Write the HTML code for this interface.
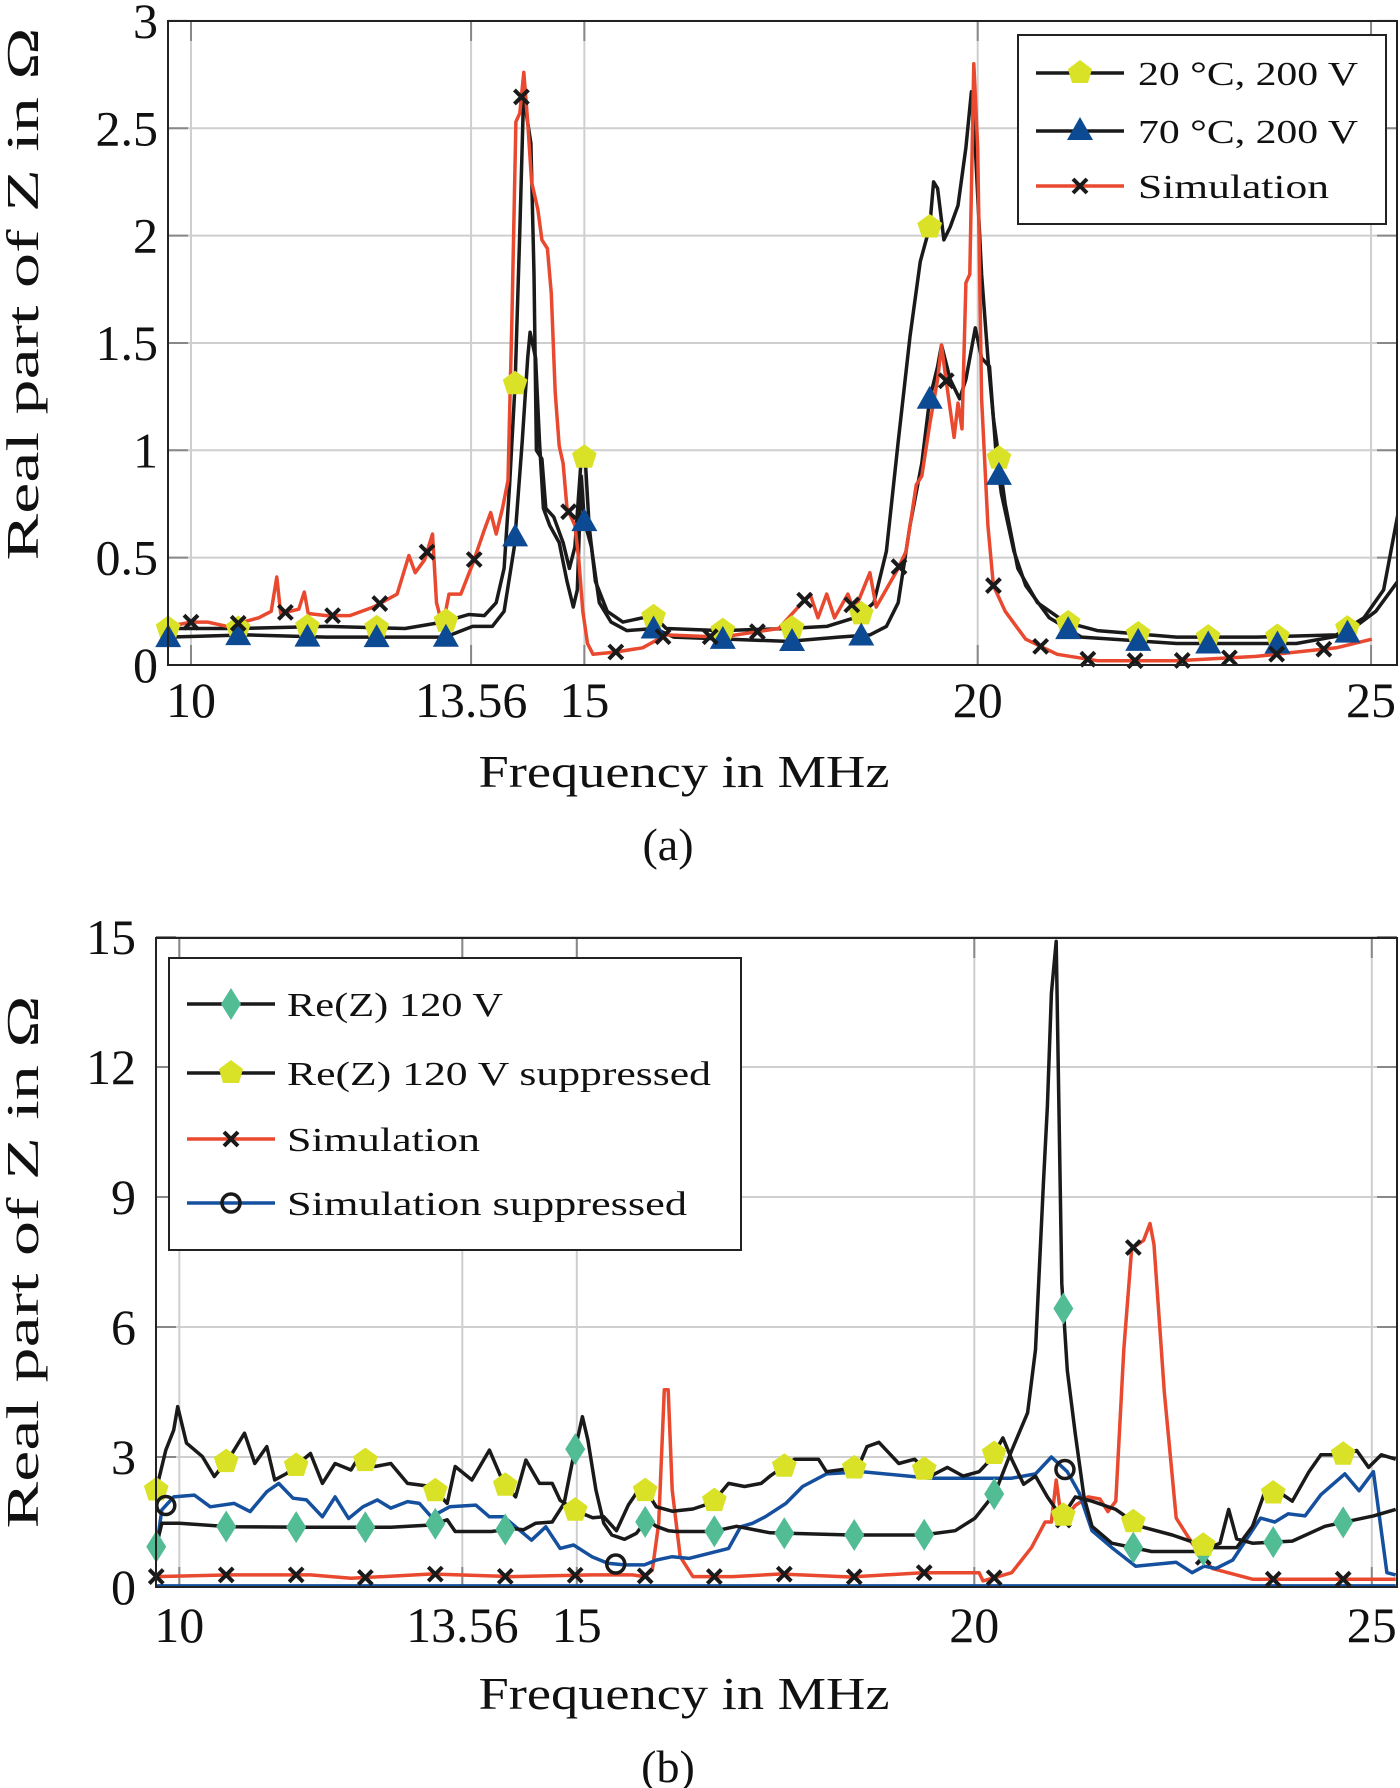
<!DOCTYPE html>
<html><head><meta charset="utf-8"><style>
html,body{margin:0;padding:0;background:#fff;}
svg{display:block;}
text{font-family:"Liberation Serif",serif;fill:#111;}
</style></head>
<body>
<svg id="fig" width="1400" height="1788" viewBox="0 0 1400 1788" xmlns="http://www.w3.org/2000/svg">
<defs>
<clipPath id="clipA"><rect x="168" y="21" width="1229" height="644"/></clipPath>
<clipPath id="clipB"><rect x="156" y="938" width="1241" height="649"/></clipPath>
</defs>
<g id="gridA"></g>
<g id="gridB"></g>
<g id="seriesA" clip-path="url(#clipA)"></g>
<g id="seriesB" clip-path="url(#clipB)"></g>
<g id="markersA"></g>
<g id="markersB"></g>
<rect x="168" y="21" width="1229" height="644" fill="none" stroke="#222" stroke-width="2"/>
<rect x="156" y="938" width="1241" height="649" fill="none" stroke="#222" stroke-width="2"/>
<g id="labels"></g>

<text x="684" y="787" font-size="46" text-anchor="middle" textLength="411" lengthAdjust="spacingAndGlyphs">Frequency in MHz</text>
<text x="668" y="860" font-size="46" text-anchor="middle">(a)</text>
<text transform="translate(38,294) rotate(-90)" font-size="46" text-anchor="middle" textLength="533" lengthAdjust="spacingAndGlyphs">Real part of Z in Ω</text>
<text x="684" y="1709" font-size="46" text-anchor="middle" textLength="411" lengthAdjust="spacingAndGlyphs">Frequency in MHz</text>
<text x="668" y="1782" font-size="46" text-anchor="middle">(b)</text>
<text transform="translate(38,1262) rotate(-90)" font-size="46" text-anchor="middle" textLength="533" lengthAdjust="spacingAndGlyphs">Real part of Z in Ω</text>

<g>
<rect x="1018" y="35" width="368" height="189" fill="#fff" stroke="#222" stroke-width="2"/>
<g>
<line x1="1036" y1="73" x2="1124" y2="73" stroke="#1a1a1a" stroke-width="3.5"/>
<polygon points="1080,60 1092,69 1088,83 1072,83 1068,69" fill="#d9e226"/>
<text x="1138" y="85" font-size="34" textLength="220" lengthAdjust="spacingAndGlyphs">20 °C, 200 V</text></g>
<g>
<line x1="1036" y1="131" x2="1124" y2="131" stroke="#1a1a1a" stroke-width="3.5"/>
<polygon points="1080,117 1093,140 1067,140" fill="#0d4a94"/>
<text x="1138" y="143" font-size="34" textLength="220" lengthAdjust="spacingAndGlyphs">70 °C, 200 V</text></g>
<g>
<line x1="1036" y1="186" x2="1124" y2="186" stroke="#e8492f" stroke-width="3.5"/>
<path d="M1073,179 L1087,193 M1087,179 L1073,193" stroke="#1a1a1a" stroke-width="4"/>
<text x="1138" y="198" font-size="34" textLength="191" lengthAdjust="spacingAndGlyphs">Simulation</text></g>
</g>

<g>
<rect x="169" y="958" width="572" height="292" fill="#fff" stroke="#222" stroke-width="2"/>
<g>
<line x1="187" y1="1004" x2="275" y2="1004" stroke="#1a1a1a" stroke-width="3.5"/>
<polygon points="231,988 241,1004 231,1020 221,1004" fill="#52bc95"/>
<text x="287" y="1016" font-size="34" textLength="216" lengthAdjust="spacingAndGlyphs">Re(Z) 120 V</text></g>
<g>
<line x1="187" y1="1073" x2="275" y2="1073" stroke="#1a1a1a" stroke-width="3.5"/>
<polygon points="231,1060 243,1069 239,1083 223,1083 219,1069" fill="#d9e226"/>
<text x="287" y="1085" font-size="34" textLength="424" lengthAdjust="spacingAndGlyphs">Re(Z) 120 V suppressed</text></g>
<g>
<line x1="187" y1="1139" x2="275" y2="1139" stroke="#e8492f" stroke-width="3.5"/>
<path d="M224,1132 L238,1146 M238,1132 L224,1146" stroke="#1a1a1a" stroke-width="4"/>
<text x="287" y="1151" font-size="34" textLength="193" lengthAdjust="spacingAndGlyphs">Simulation</text></g>
<g>
<line x1="187" y1="1203" x2="275" y2="1203" stroke="#15509e" stroke-width="3.5"/>
<circle cx="231" cy="1203" r="9" fill="none" stroke="#1a1a1a" stroke-width="3.5"/>
<text x="287" y="1215" font-size="34" textLength="400" lengthAdjust="spacingAndGlyphs">Simulation suppressed</text></g>
</g>
</svg>
<script>
const aXTicks = [10, 13.56, 15, 20, 25];
const aXTickLabels = ["10", "13.56", "15", "20", "25"];
const aYTicks = [0, 0.5, 1, 1.5, 2, 2.5, 3];
const aYTickLabels = ["0", "0.5", "1", "1.5", "2", "2.5", "3"];

const a20Freq = [9.71,10.61,11.72,12.72,13.2,13.53,13.73,13.88,13.98,14.05,14.12,14.18,14.23,14.27,14.32,14.36,14.39,14.46,14.51,14.61,14.73,14.81,14.88,14.96,15.01,15.06,15.14,15.29,15.49,15.74,15.89,16.04,16.74,17.59,18.08,18.48,18.68,18.84,18.99,19.14,19.27,19.39,19.44,19.49,19.57,19.65,19.75,19.85,19.92,19.97,20.05,20.13,20.2,20.35,20.51,20.76,21.11,21.52,22.53,23.54,24.56,24.91,25.16,25.34];
const a20Val  = [0.17,0.17,0.18,0.17,0.2,0.235,0.23,0.29,0.45,0.84,1.31,2.02,2.69,2.55,2.43,1.82,1.0,0.96,0.73,0.69,0.57,0.45,0.55,0.96,0.97,0.65,0.39,0.25,0.2,0.22,0.225,0.17,0.16,0.17,0.18,0.225,0.29,0.53,1.04,1.53,1.88,2.04,2.25,2.22,1.98,2.04,2.14,2.41,2.67,2.41,1.82,1.43,1.15,0.75,0.45,0.29,0.2,0.16,0.13,0.13,0.14,0.22,0.35,0.7];

const a70Freq = [9.71,10.71,11.72,12.72,13.23,13.58,13.83,13.98,14.11,14.21,14.28,14.31,14.38,14.43,14.48,14.56,14.68,14.78,14.86,14.91,14.96,15.0,15.09,15.19,15.34,15.54,15.89,16.14,17.59,18.23,18.63,18.84,18.99,19.14,19.29,19.39,19.49,19.54,19.65,19.77,19.85,19.97,20.05,20.15,20.23,20.3,20.46,20.61,20.91,21.32,22.53,24.05,24.66,25.06,25.34];
const a70Val  = [0.13,0.14,0.13,0.13,0.13,0.18,0.18,0.25,0.55,1.04,1.43,1.55,1.43,1.04,0.73,0.65,0.57,0.39,0.27,0.35,0.88,0.67,0.55,0.29,0.2,0.16,0.17,0.13,0.11,0.13,0.14,0.18,0.29,0.65,0.94,1.24,1.39,1.49,1.33,1.24,1.33,1.57,1.43,1.39,1.0,0.8,0.53,0.37,0.22,0.13,0.1,0.1,0.14,0.25,0.39];

const aSimFreq = [9.71,10.01,10.21,10.46,10.86,11.02,11.09,11.14,11.37,11.44,11.49,11.72,12.02,12.32,12.62,12.77,12.85,12.97,13.07,13.12,13.2,13.28,13.43,13.58,13.73,13.81,13.88,13.96,14.03,14.08,14.13,14.18,14.23,14.28,14.33,14.41,14.46,14.53,14.58,14.63,14.68,14.73,14.78,14.83,14.88,14.93,14.98,15.04,15.11,15.39,15.74,16.04,16.74,17.47,17.87,17.97,18.08,18.18,18.35,18.43,18.63,18.71,18.99,19.09,19.22,19.29,19.39,19.49,19.54,19.59,19.7,19.75,19.8,19.85,19.9,19.95,20.0,20.05,20.13,20.2,20.35,20.61,21.01,21.52,22.53,23.54,24.56,25.01];
const aSimVal  = [0.18,0.2,0.2,0.18,0.22,0.25,0.41,0.24,0.26,0.34,0.24,0.23,0.23,0.27,0.33,0.51,0.43,0.49,0.61,0.29,0.18,0.33,0.33,0.47,0.63,0.71,0.61,0.73,0.86,1.63,2.53,2.57,2.76,2.53,2.25,2.12,1.98,1.94,1.73,1.27,1.02,0.94,0.73,0.69,0.65,0.49,0.25,0.1,0.05,0.06,0.08,0.14,0.13,0.17,0.33,0.22,0.33,0.22,0.33,0.25,0.43,0.27,0.45,0.53,0.84,0.88,1.12,1.33,1.49,1.35,1.06,1.22,1.1,1.78,1.82,2.8,2.41,1.24,0.65,0.37,0.25,0.12,0.05,0.02,0.02,0.04,0.08,0.12];

const aPentFreq = [9.71,10.6,11.48,12.36,13.24,14.12,15.0,15.88,16.76,17.64,18.52,19.39,20.27,21.15,22.04,22.93,23.81,24.7];
const aTriFreq  = [9.71,10.6,11.48,12.36,13.24,14.12,15.0,15.88,16.76,17.64,18.52,19.39,20.27,21.15,22.04,22.93,23.81,24.7];
const aCrossFreq = [10.0,10.6,11.2,11.8,12.4,13.0,13.6,14.2,14.8,15.4,16.0,16.6,17.2,17.8,18.4,19.0,19.6,20.2,20.8,21.4,22.0,22.6,23.2,23.8,24.4];

const bXTicks = [10, 13.56, 15, 20, 25];
const bXTickLabels = ["10", "13.56", "15", "20", "25"];
const bYTicks = [0, 3, 6, 9, 12, 15];
const bYTickLabels = ["0", "3", "6", "9", "12", "15"];

const bReFreq = [9.71,9.78,10.0,10.64,11.65,12.66,13.17,13.37,13.47,13.93,14.18,14.33,14.48,14.69,14.84,14.94,15.07,15.14,15.24,15.34,15.44,15.6,15.75,15.88,16.0,16.15,16.25,16.71,17.01,17.43,18.44,19.35,19.76,20.01,20.26,20.47,20.67,20.77,20.87,20.92,20.97,21.03,21.1,21.17,21.27,21.38,21.48,21.73,22.23,22.84,23.09,23.2,23.3,23.5,24.0,24.41,24.76,25.02,25.3];
const bReVal  = [0.93,1.47,1.47,1.39,1.38,1.38,1.43,1.55,1.28,1.28,1.35,1.32,1.47,1.5,1.93,2.85,3.93,3.39,2.24,1.47,1.2,1.1,1.24,1.55,1.4,1.3,1.28,1.28,1.4,1.25,1.2,1.2,1.3,1.59,2.17,3.15,4.02,5.48,9.36,11.1,13.7,14.9,7.0,5.0,3.53,2.08,1.4,1.01,0.82,0.82,1.01,1.79,1.11,1.01,1.06,1.4,1.54,1.64,1.79];

const bSupFreq = [9.71,9.83,9.93,9.98,10.09,10.29,10.44,10.64,10.82,10.95,11.1,11.2,11.35,11.5,11.65,11.8,11.96,12.16,12.26,12.46,12.66,12.87,13.17,13.37,13.47,13.68,13.9,14.08,14.23,14.36,14.53,14.69,14.79,15.0,15.2,15.34,15.5,15.65,15.8,15.88,16.0,16.2,16.46,16.71,16.91,17.11,17.32,17.43,17.74,18.04,18.14,18.54,18.65,18.8,19.05,19.25,19.45,19.66,19.86,20.06,20.21,20.36,20.47,20.62,20.77,20.92,21.1,21.27,21.48,21.78,22.08,22.49,22.79,22.99,23.3,23.5,23.65,23.85,24.0,24.21,24.36,24.61,24.81,24.96,25.12,25.3];
const bSupVal  = [2.24,3.16,3.62,4.16,3.32,3.01,2.55,3.01,3.55,2.85,3.24,2.47,2.62,2.85,3.08,2.39,2.85,2.7,3.01,2.78,2.85,2.39,2.32,1.93,2.78,2.47,3.16,2.39,2.08,2.93,2.39,2.39,2.0,1.75,1.6,1.62,1.3,1.9,2.3,2.2,1.85,1.75,1.8,1.95,2.39,2.32,2.39,2.56,2.95,2.95,2.66,2.76,3.24,3.34,2.85,2.95,2.56,2.76,2.56,2.66,2.95,3.44,2.95,2.37,2.56,2.08,1.6,2.08,1.98,1.79,1.4,1.2,1.01,0.91,0.91,1.4,2.17,2.17,1.98,2.66,3.05,3.05,3.15,2.76,3.05,2.95];

const bSimFreq = [9.71,10.64,11.65,12.16,13.17,14.18,15.19,15.7,15.85,15.95,16.03,16.1,16.15,16.2,16.3,16.46,16.96,17.56,18.44,19.35,20.06,20.11,20.47,20.72,20.89,20.97,21.03,21.1,21.27,21.43,21.58,21.68,21.78,21.88,21.98,22.13,22.21,22.26,22.39,22.54,22.74,22.99,23.5,24.51,25.3];
const bSimVal  = [0.24,0.28,0.28,0.2,0.3,0.24,0.28,0.28,0.24,0.39,1.47,4.55,4.55,2.24,0.7,0.24,0.24,0.3,0.23,0.33,0.33,0.14,0.33,0.91,1.5,1.5,2.47,1.5,1.88,2.08,2.03,1.74,1.98,5.48,7.81,8.0,8.39,7.9,4.5,1.59,1.01,0.43,0.18,0.18,0.18];

const bSimSupFreq = [9.71,9.78,9.93,10.19,10.39,10.69,10.89,11.1,11.25,11.43,11.6,11.8,11.96,12.13,12.31,12.49,12.66,12.87,13.02,13.17,13.4,13.73,13.9,14.08,14.43,14.61,14.79,14.96,15.19,15.39,15.6,15.85,16.0,16.2,16.41,16.91,17.06,17.21,17.37,17.63,17.84,18.14,18.59,19.45,20.47,20.77,20.97,21.17,21.32,21.48,21.73,22.03,22.54,22.74,22.89,23.04,23.25,23.6,23.78,23.95,24.16,24.36,24.66,24.84,25.02,25.19,25.3];
const bSimSupVal  = [0.85,1.78,2.08,2.12,1.85,1.93,1.74,2.2,2.39,2.05,2.01,1.62,2.08,1.58,1.85,2.01,1.82,1.97,1.93,1.62,1.85,1.89,1.62,1.62,1.08,1.39,0.89,0.97,0.7,0.55,0.51,0.51,0.62,0.7,0.66,0.89,1.39,1.47,1.62,1.93,2.32,2.61,2.66,2.51,2.51,2.61,3.0,2.66,2.17,1.3,0.91,0.48,0.57,0.33,0.48,0.43,0.62,1.59,1.5,1.69,1.64,2.13,2.61,2.22,2.66,0.33,0.28];
const bBaseFreq = [9.71, 25.3];
const bBaseVal  = [0.02, 0.02];

const bMarkFreq = [9.71,10.59,11.47,12.34,13.22,14.1,14.98,15.86,16.73,17.61,18.49,19.37,20.25,21.12,22.0,22.88,23.76,24.64];
const bCrossFreq = [9.71,10.59,11.47,12.34,13.22,14.1,14.98,15.86,16.73,17.61,18.49,19.37,20.25,21.12,22.0,22.88,23.76,24.64];
const bCircleFreq = [9.83, 15.49, 21.14];

const SVGNS = "http://www.w3.org/2000/svg";
function xA(f){ return 191 + (f - 10) * 78.67; }
function yA(v){ return 665 - v * 214.7; }
function xB(f){ return 179.3 + (f - 10) * 79.5; }
function yB(v){ return 1587 - v * 43.33; }

function mk(tag, attrs, parent){
  const e = document.createElementNS(SVGNS, tag);
  for (const k in attrs) e.setAttribute(k, attrs[k]);
  parent.appendChild(e);
  return e;
}
function interp(fs, vs, f){
  if (f <= fs[0]) return vs[0];
  for (let i = 1; i < fs.length; i++){
    if (f <= fs[i]){ const t = (f - fs[i-1]) / (fs[i] - fs[i-1]); return vs[i-1] + t * (vs[i] - vs[i-1]); }
  }
  return vs[vs.length - 1];
}
function linePath(fs, vs, xf, yf){
  return fs.map((f, i) => (i ? "L" : "M") + xf(f).toFixed(1) + "," + yf(vs[i]).toFixed(1)).join(" ");
}

const labels = document.getElementById("labels");
function drawGrid(g, xTicks, yTicks, xf, yf, left, right, top, bottom){
  xTicks.forEach(t => {
    const l = mk("line", {x1:xf(t), x2:xf(t), y1:top, y2:bottom, stroke:"#cfcfcf", "stroke-width":2}, g);
    
    
    mk("line", {x1:xf(t), x2:xf(t), y1:top, y2:top+20, stroke:"#888", "stroke-width":2}, g);
    mk("line", {x1:xf(t), x2:xf(t), y1:bottom-20, y2:bottom, stroke:"#888", "stroke-width":2}, g);
  });
  yTicks.forEach(t => {
    const l = mk("line", {x1:left, x2:right, y1:yf(t), y2:yf(t), stroke:"#cfcfcf", "stroke-width":2}, g);
    
    
    mk("line", {x1:left, x2:left+20, y1:yf(t), y2:yf(t), stroke:"#888", "stroke-width":2}, g);
    mk("line", {x1:right-20, x2:right, y1:yf(t), y2:yf(t), stroke:"#888", "stroke-width":2}, g);
  });
}
function drawTickLabels(xTicks, xLabels, yTicks, yLabels, xf, yf, xBase, yRight){
  xTicks.forEach((t, i) => {
    const e = mk("text", {x:xf(t), y:xBase, "font-size":50, "text-anchor":"middle"}, labels);
    e.textContent = xLabels[i];
    
    
  });
  yTicks.forEach((t, i) => {
    const e = mk("text", {x:yRight, y:yf(t) + 17, "font-size":50, "text-anchor":"end"}, labels);
    e.textContent = yLabels[i];
    
    
  });
}
drawGrid(document.getElementById("gridA"), aXTicks, aYTicks, xA, yA, 168, 1397, 21, 665);
drawGrid(document.getElementById("gridB"), bXTicks, bYTicks, xB, yB, 156, 1397, 938, 1587);
drawTickLabels(aXTicks, aXTickLabels, aYTicks, aYTickLabels, xA, yA, 717, 158);
drawTickLabels(bXTicks, bXTickLabels, bYTicks, bYTickLabels, xB, yB, 1642, 136);

const sA = document.getElementById("seriesA");
const sB = document.getElementById("seriesB");
let p;
p = mk("path", {d:linePath(a20Freq, a20Val, xA, yA), fill:"none", stroke:"#1a1a1a", "stroke-width":3.5, "stroke-linejoin":"round"}, sA);


p = mk("path", {d:linePath(a70Freq, a70Val, xA, yA), fill:"none", stroke:"#1a1a1a", "stroke-width":3.5, "stroke-linejoin":"round"}, sA);


p = mk("path", {d:linePath(aSimFreq, aSimVal, xA, yA), fill:"none", stroke:"#e8492f", "stroke-width":3.5, "stroke-linejoin":"round"}, sA);



p = mk("path", {d:linePath(bBaseFreq, bBaseVal, xB, yB), fill:"none", stroke:"#15509e", "stroke-width":4}, sB);


p = mk("path", {d:linePath(bSimFreq, bSimVal, xB, yB), fill:"none", stroke:"#e8492f", "stroke-width":3.5, "stroke-linejoin":"round"}, sB);


p = mk("path", {d:linePath(bSimSupFreq, bSimSupVal, xB, yB), fill:"none", stroke:"#15509e", "stroke-width":3.5, "stroke-linejoin":"round"}, sB);


p = mk("path", {d:linePath(bReFreq, bReVal, xB, yB), fill:"none", stroke:"#1a1a1a", "stroke-width":3.5, "stroke-linejoin":"round"}, sB);


p = mk("path", {d:linePath(bSupFreq, bSupVal, xB, yB), fill:"none", stroke:"#1a1a1a", "stroke-width":3.5, "stroke-linejoin":"round"}, sB);



function pent(cx, cy, r){
  const pts = [];
  for (let k = 0; k < 5; k++){ const a = -Math.PI/2 + k * 2*Math.PI/5; pts.push((cx + r*Math.cos(a)).toFixed(1) + "," + (cy + r*Math.sin(a)).toFixed(1)); }
  return pts.join(" ");
}
const mA = document.getElementById("markersA");
const mB = document.getElementById("markersB");
aPentFreq.forEach(f => {
  const x = xA(f), y = yA(interp(a20Freq, a20Val, f));
  const e = mk("polygon", {points:pent(x, y, 13), fill:"#d9e226"}, mA);
  
  
});
aTriFreq.forEach(f => {
  const x = xA(f), y = yA(interp(a70Freq, a70Val, f));
  const e = mk("polygon", {points:`${x},${y-13} ${x+13},${y+10} ${x-13},${y+10}`, fill:"#0d4a94"}, mA);
  
  
});
aCrossFreq.forEach(f => {
  const x = xA(f), y = yA(interp(aSimFreq, aSimVal, f));
  const e = mk("path", {d:`M${x-7},${y-7} L${x+7},${y+7} M${x+7},${y-7} L${x-7},${y+7}`, stroke:"#1a1a1a", "stroke-width":4}, mA);
  
  
});
bCrossFreq.forEach(f => {
  const x = xB(f), y = yB(interp(bSimFreq, bSimVal, f));
  const e = mk("path", {d:`M${x-7},${y-7} L${x+7},${y+7} M${x+7},${y-7} L${x-7},${y+7}`, stroke:"#1a1a1a", "stroke-width":4}, mB);
  
  
});
bMarkFreq.forEach(f => {
  const x = xB(f), y = yB(interp(bReFreq, bReVal, f));
  const e = mk("polygon", {points:`${x},${y-16} ${x+10},${y} ${x},${y+16} ${x-10},${y}`, fill:"#52bc95"}, mB);
  
  
});
bMarkFreq.forEach(f => {
  const x = xB(f), y = yB(interp(bSupFreq, bSupVal, f));
  const e = mk("polygon", {points:pent(x, y, 13), fill:"#d9e226"}, mB);
  
  
});
bCircleFreq.forEach(f => {
  const x = xB(f), y = yB(interp(bSimSupFreq, bSimSupVal, f));
  const e = mk("circle", {cx:x, cy:y, r:9, fill:"none", stroke:"#1a1a1a", "stroke-width":3.5}, mB);
  
  
});
</script>
</body></html>
